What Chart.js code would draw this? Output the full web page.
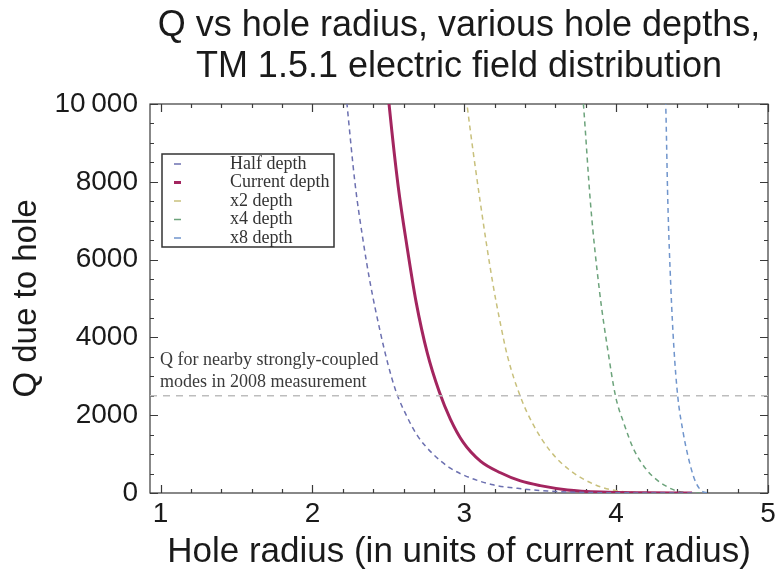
<!DOCTYPE html>
<html>

<head>
  <title>Q vs hole radius</title>
  <script type="text/javascript" src="https://cdn.jsdelivr.net/npm/chart.js"></script>
  <style>
    body { margin: 0; background: #fff; }
  </style>
</head>

<body>

  <canvas id="q-chart" width="783" height="573"></canvas>

  <script type="text/javascript">
    // Axis ticks and labels
    const xTickValues = [1, 2, 3, 4, 5];
    const yTickValues = [0, 2000, 4000, 6000, 8000, 10000];
    const yTickLabels = ['0', '2000', '4000', '6000', '8000', '10\u2009000'];

    const titleLines = ['Q vs hole radius, various hole depths,', 'TM 1.5.1 electric field distribution'];
    const seriesLabels = ['Half depth', 'Current depth', 'x2 depth', 'x4 depth', 'x8 depth'];
    const noteLines = ['Q for nearby strongly-coupled', 'modes in 2008 measurement'];

    // [hole radius, Q]
    const halfDepth = [
      [2.215, 10500], [2.228, 9970], [2.28, 7970], [2.333, 6500], [2.38, 5400], [2.446, 4150],
      [2.498, 3300], [2.551, 2600], [2.624, 1950], [2.69, 1480], [2.789, 1020], [2.908, 640],
      [3.04, 390], [3.19, 210], [3.35, 120], [3.55, 50], [3.8, 15], [4.1, 3], [4.5, 0]
    ];
    const currentDepth = [
      [2.485, 10800], [2.505, 9970], [2.564, 7900], [2.624, 6300], [2.683, 4900], [2.756, 3600],
      [2.835, 2600], [2.908, 1900], [2.993, 1300], [3.106, 820], [3.238, 520], [3.37, 310],
      [3.5, 190], [3.68, 80], [3.9, 25], [4.2, 5], [4.5, 0]
    ];
    const x2Depth = [
      [3.0, 10600], [3.02, 9920], [3.106, 7450], [3.185, 5450], [3.238, 4350], [3.284, 3520],
      [3.37, 2470], [3.455, 1750], [3.568, 1070], [3.70, 570], [3.85, 230], [3.96, 90],
      [4.1, 20], [4.4, 0]
    ];
    const x4Depth = [
      [3.77, 10700], [3.786, 9920], [3.832, 7400], [3.89, 5200], [3.944, 3700], [3.997, 2470],
      [4.05, 1800], [4.116, 1120], [4.208, 560], [4.27, 330], [4.314, 210], [4.38, 80],
      [4.45, 15], [4.55, 0]
    ];
    const x8Depth = [
      [4.32, 10800], [4.327, 9920], [4.34, 7530], [4.36, 5300], [4.38, 3750], [4.406, 2470],
      [4.44, 1580], [4.47, 1000], [4.51, 420], [4.545, 130], [4.58, 20], [4.62, 0]
    ];

    // measured Q of nearby modes, drawn across the full radius range
    const measuredQ = 2500;
    const xRange = [0.93, 5.0];

    const SANS = '"Liberation Sans", Arial, Helvetica, sans-serif';
    const SERIF = '"Liberation Serif", "Times New Roman", serif';

    function toPoints(rows) {
      return rows.map(r => ({ x: r[0], y: r[1] }));
    }

    function curve(label, rows, color, width, dash) {
      return {
        label: label,
        data: toPoints(rows),
        borderColor: color,
        backgroundColor: color,
        borderWidth: width,
        borderDash: dash,
        pointRadius: 0,
        cubicInterpolationMode: 'monotone',
        inLegend: true
      };
    }

    // Frame with inward ticks on all four sides, title, note and legend box
    const framePlugin = {
      id: 'frame',
      beforeDatasetsDraw(chart) {
        const ctx = chart.ctx;
        const a = chart.chartArea;
        const xs = chart.scales.x;
        const ys = chart.scales.y;
        ctx.save();
        ctx.strokeStyle = '#3a3a3a';
        ctx.lineWidth = 1.2;
        ctx.strokeRect(a.left, a.top, a.right - a.left, a.bottom - a.top);
        ctx.beginPath();
        for (let v = 1; v <= 5.0001; v += 0.2) {
          const major = Math.abs(v - Math.round(v)) < 1e-6;
          const len = major ? 8 : 4;
          const px = Math.round(xs.getPixelForValue(v)) + 0.5;
          ctx.moveTo(px, a.bottom); ctx.lineTo(px, a.bottom - len);
          ctx.moveTo(px, a.top); ctx.lineTo(px, a.top + len);
        }
        for (let v = 0; v <= 10000; v += 500) {
          const major = v % 2000 === 0;
          const len = major ? 8 : 4;
          const py = Math.round(ys.getPixelForValue(v)) + 0.5;
          ctx.moveTo(a.left, py); ctx.lineTo(a.left + len, py);
          ctx.moveTo(a.right, py); ctx.lineTo(a.right - len, py);
        }
        ctx.stroke();
        ctx.restore();
      },
      afterDraw(chart) {
        const ctx = chart.ctx;
        const a = chart.chartArea;
        const cx = (a.left + a.right) / 2;
        ctx.save();

        // title, centred over the plot frame
        ctx.fillStyle = '#1a1a1a';
        ctx.font = '36px ' + SANS;
        ctx.textAlign = 'center';
        ctx.textBaseline = 'alphabetic';
        ctx.fillText(titleLines[0], cx, 36);
        ctx.fillText(titleLines[1], cx, 77);

        // note above the measured-Q line
        const yRef = chart.scales.y.getPixelForValue(measuredQ);
        ctx.fillStyle = '#3a3a3a';
        ctx.font = '18px ' + SERIF;
        ctx.textAlign = 'left';
        ctx.textBaseline = 'middle';
        ctx.fillText(noteLines[0], a.left + 10, yRef - 35);
        ctx.fillText(noteLines[1], a.left + 10, yRef - 13);

        // boxed legend in the upper left
        const bx = a.left + 12, by = a.top + 50, bw = 172, bh = 93;
        ctx.fillStyle = '#fff';
        ctx.fillRect(bx, by, bw, bh);
        ctx.strokeStyle = '#333';
        ctx.lineWidth = 1.5;
        ctx.strokeRect(bx, by, bw, bh);
        const items = chart.data.datasets.filter(d => d.inLegend);
        items.forEach((d, i) => {
          const y = by + 10 + i * 18.5;
          ctx.strokeStyle = d.borderColor;
          ctx.lineWidth = d.borderWidth;
          ctx.setLineDash([]);
          ctx.beginPath();
          ctx.moveTo(bx + 12, y);
          ctx.lineTo(bx + 19, y);
          ctx.stroke();
          ctx.fillStyle = '#333';
          ctx.font = '18px ' + SERIF;
          ctx.fillText(d.label, bx + 68, y);
        });
        ctx.restore();
      }
    };

    window.onload = function() {
      const ctx = document.getElementById('q-chart');
      new Chart(ctx, {
        type: 'line',
        data: {
          datasets: [
            {
              label: 'measured',
              data: xRange.map(x => ({ x: x, y: measuredQ })),
              borderColor: '#bdbdbd',
              borderWidth: 1.5,
              borderDash: [7, 6],
              pointRadius: 0
            },
            curve(seriesLabels[0], halfDepth, '#6c70b0', 1.5, [5, 4]),
            curve(seriesLabels[1], currentDepth, '#a3255f', 3, []),
            curve(seriesLabels[2], x2Depth, '#c8c07c', 1.5, [5, 4]),
            curve(seriesLabels[3], x4Depth, '#6ca37b', 1.5, [5, 4]),
            curve(seriesLabels[4], x8Depth, '#7095cc', 1.5, [5, 4])
          ]
        },
        options: {
          responsive: false,
          animation: false,
          layout: { padding: { top: 104, right: 15, left: 0, bottom: 0 } },
          plugins: {
            legend: { display: false },
            tooltip: { enabled: false }
          },
          scales: {
            x: {
              type: 'linear',
              min: xRange[0],
              max: xRange[1],
              afterBuildTicks: s => { s.ticks = xTickValues.map(v => ({ value: v })); },
              afterFit: s => { s.height = 80; },
              grid: { display: false, drawTicks: false },
              border: { display: false },
              ticks: {
                padding: 4,
                maxRotation: 0,
                autoSkip: false,
                color: '#1a1a1a',
                font: { family: SANS, size: 28 },
                callback: v => String(v)
              },
              title: {
                display: true,
                text: 'Hole radius (in units of current radius)',
                color: '#1a1a1a',
                font: { family: SANS, size: 35 },
                padding: { top: 0, bottom: 0 }
              }
            },
            y: {
              min: 0,
              max: 10000,
              afterBuildTicks: s => { s.ticks = yTickValues.map(v => ({ value: v })); },
              afterFit: s => { s.width = 150; },
              grid: { display: false, drawTicks: false },
              border: { display: false },
              ticks: {
                padding: 12,
                color: '#1a1a1a',
                font: { family: SANS, size: 28 },
                callback: v => yTickLabels[yTickValues.indexOf(v)]
              },
              title: {
                display: true,
                text: 'Q due to hole',
                color: '#1a1a1a',
                font: { family: SANS, size: 33 },
                padding: { top: 7, bottom: 0 }
              }
            }
          }
        },
        plugins: [framePlugin]
      });
    };
  </script>

</body>

</html>
